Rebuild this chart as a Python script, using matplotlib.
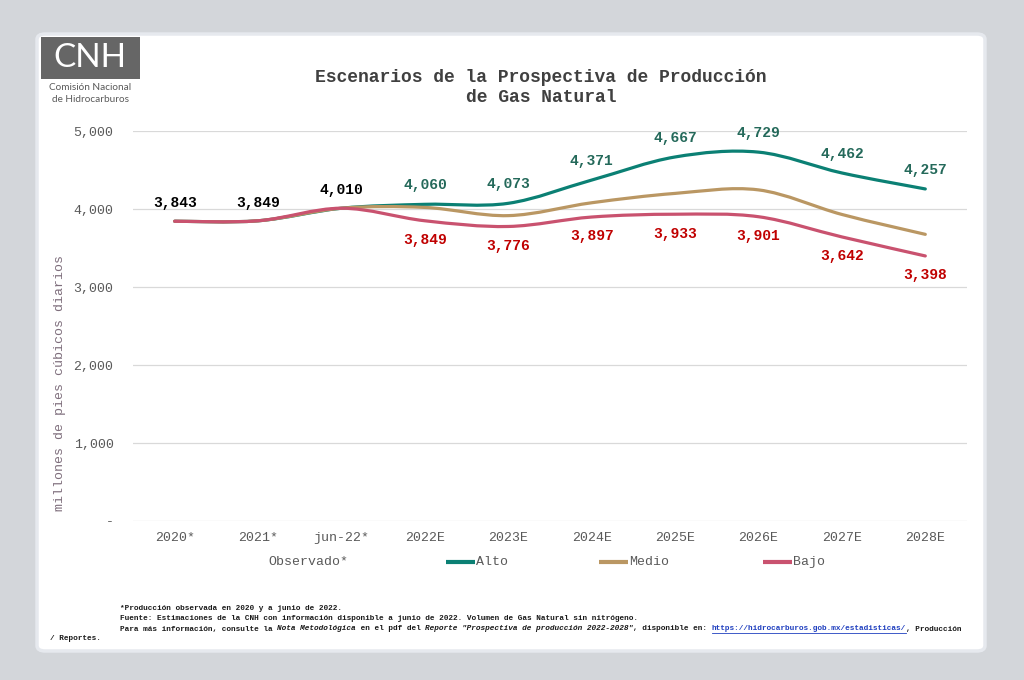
import matplotlib
matplotlib.use("Agg")
import matplotlib.pyplot as plt
from matplotlib.path import Path
from matplotlib.patches import PathPatch, FancyBboxPatch, Rectangle
from matplotlib.lines import Line2D
from matplotlib.ticker import FuncFormatter

categories = ["2020*", "2021*", "jun-22*", "2022E", "2023E", "2024E", "2025E", "2026E", "2027E", "2028E"]
observado = [3843, 3849, 4010]
alto = [3843, 3849, 4010, 4060, 4073, 4371, 4667, 4729, 4462, 4257]
medio = [3843, 3849, 4010, 4020, 3915, 4080, 4200, 4245, 3930, 3675]
bajo = [3843, 3849, 4010, 3849, 3776, 3897, 3933, 3901, 3642, 3398]
yticks = [0, 1000, 2000, 3000, 4000, 5000]

MONO = "Liberation Mono"
C_ALTO, C_MEDIO, C_BAJO = "#0B8074", "#BA9763", "#C9526F"
L_ALTO, L_BAJO = "#24695A", "#C00000"

W, H = 1024, 680
fig = plt.figure(figsize=(W / 100, H / 100), dpi=100)
fig.patch.set_facecolor("#D3D6DA")

def fx(x):
    return x / W

def fy(y):
    return 1 - y / H

# white panel
panel = FancyBboxPatch((fx(37), fy(651)), fx(985) - fx(37), fy(34) - fy(651),
                       boxstyle="round,pad=0,rounding_size=0.008", transform=fig.transFigure,
                       facecolor="white", edgecolor="#E6E9EE", linewidth=2.5, zorder=-10)
fig.add_artist(panel)

ax = fig.add_axes([fx(133), fy(521), fx(967) - fx(133), fy(131) - fy(521)])
ax.set_zorder(5)
ax.set_facecolor("none")
ax.set_xlim(-0.5, len(categories) - 0.5)
ax.set_ylim(0, 5000)
ax.set_yticks(yticks)
ax.yaxis.set_major_formatter(FuncFormatter(lambda v, p: "-" if v == 0 else f"{int(v):,}"))
ax.set_xticks(range(len(categories)))
ax.set_xticklabels(categories)
ax.grid(axis="y", color="#D9D9D9", linewidth=0.9)
ax.set_axisbelow(True)
for s in ax.spines.values():
    s.set_visible(False)
ax.tick_params(length=0, colors="#595959", labelsize=9.5, pad=8)
for lab in ax.get_xticklabels() + ax.get_yticklabels():
    lab.set_fontfamily(MONO)
ax.tick_params(axis="y", pad=14)
ax.set_ylabel("millones de pies cúbicos diarios", fontfamily=MONO, fontsize=9.5,
              color="#7E6E7C", labelpad=6)
ax.yaxis.set_label_coords(-0.08, 0.355)


def smooth(xs, ys):
    pts = list(zip(xs, ys))
    n = len(pts)
    verts = [pts[0]]
    codes = [Path.MOVETO]
    for i in range(n - 1):
        p0 = pts[i - 1] if i > 0 else pts[i]
        p1 = pts[i]
        p2 = pts[i + 1]
        p3 = pts[i + 2] if i + 2 < n else pts[i + 1]
        c1 = (p1[0] + (p2[0] - p0[0]) / 6, p1[1] + (p2[1] - p0[1]) / 6)
        c2 = (p2[0] - (p3[0] - p1[0]) / 6, p2[1] - (p3[1] - p1[1]) / 6)
        verts += [c1, c2, p2]
        codes += [Path.CURVE4] * 3
    return Path(verts, codes)


xs = list(range(len(categories)))
for data, col in [(alto, C_ALTO), (medio, C_MEDIO), (bajo, C_BAJO)]:
    ax.add_patch(PathPatch(smooth(xs, data), facecolor="none", edgecolor=col,
                           linewidth=2.3, capstyle="round", joinstyle="round", zorder=3))

# data labels
for i, v in enumerate(observado):
    ax.annotate(f"{v:,}", (i, v), xytext=(0, 13), textcoords="offset points", ha="center",
                va="center", fontfamily=MONO, fontweight="bold", fontsize=10.5, color="black")
for i in range(len(observado), len(categories)):
    ax.annotate(f"{alto[i]:,}", (i, alto[i]), xytext=(0, 14), textcoords="offset points",
                ha="center", va="center", fontfamily=MONO, fontweight="bold", fontsize=10.5,
                color=L_ALTO)
    ax.annotate(f"{bajo[i]:,}", (i, bajo[i]), xytext=(0, -14), textcoords="offset points",
                ha="center", va="center", fontfamily=MONO, fontweight="bold", fontsize=10.5,
                color=L_BAJO)

# title
fig.text(fx(541), fy(77.5), "Escenarios de la Prospectiva de Producción", ha="center", va="center",
         fontfamily=MONO, fontweight="bold", fontsize=13, color="#404040")
fig.text(fx(541), fy(98), "de Gas Natural", ha="center", va="center",
         fontfamily=MONO, fontweight="bold", fontsize=13, color="#404040")

# legend (manual)
fig.text(fx(268), fy(562), "Observado*", ha="left", va="center", fontfamily=MONO,
         fontsize=9.5, color="#595959")
for x0, lab, col in [(446, "Alto", C_ALTO), (599, "Medio", C_MEDIO), (763, "Bajo", C_BAJO)]:
    fig.add_artist(Line2D([fx(x0), fx(x0 + 29)], [fy(562), fy(562)], color=col, linewidth=3,
                          solid_capstyle="butt", transform=fig.transFigure))
    fig.text(fx(x0 + 30), fy(562), lab, ha="left", va="center", fontfamily=MONO,
             fontsize=9.5, color="#595959")

# logo
fig.add_artist(Rectangle((fx(41), fy(79)), fx(140) - fx(41), fy(37) - fy(79),
                         transform=fig.transFigure, facecolor="#666666", edgecolor="none"))
fig.text(fx(90), fy(58), "CNH", ha="center", va="center", fontfamily="Lato", fontweight="normal",
         fontsize=24, color="white")
fig.text(fx(90), fy(88), "Comisión Nacional", ha="center", va="center", fontfamily="Lato",
         fontsize=7.2, color="#5A5A5A")
fig.text(fx(90), fy(99), "de Hidrocarburos", ha="center", va="center", fontfamily="Lato",
         fontsize=7.2, color="#5A5A5A")

# footnotes
FS = 5.62
kw = dict(fontfamily=MONO, fontweight="bold", fontsize=FS, color="#1A1A1A", va="center", ha="left")
fig.text(fx(120), fy(608), "*Producción observada en 2020 y a junio de 2022.", **kw)
fig.text(fx(120), fy(619), "Fuente: Estimaciones de la CNH con información disponible a junio de 2022. Volumen de Gas Natural sin nitrógeno.", **kw)

fig.canvas.draw()
renderer = fig.canvas.get_renderer()
segments = [
    ("Para más información, consulte la ", "normal", "#1A1A1A", False),
    ("Nota Metodológica", "italic", "#1A1A1A", False),
    (" en el pdf del ", "normal", "#1A1A1A", False),
    ("Reporte \"Prospectiva de producción 2022-2028\"", "italic", "#1A1A1A", False),
    (", disponible en: ", "normal", "#1A1A1A", False),
    ("https://hidrocarburos.gob.mx/estadisticas/", "normal", "#1F3FBF", True),
    (", Producción", "normal", "#1A1A1A", False),
]
xpix = 120
for txt, style, col, underline in segments:
    t = fig.text(fx(xpix), fy(629), txt, fontfamily=MONO, fontweight="bold", fontsize=FS,
                 color=col, va="center", ha="left", fontstyle=style)
    bb = t.get_window_extent(renderer)
    if underline:
        fig.add_artist(Line2D([fx(xpix), fx(xpix + bb.width)], [fy(633), fy(633)], color=col,
                              linewidth=0.6, transform=fig.transFigure))
    xpix += bb.width
fig.text(fx(50), fy(638), "/ Reportes.", **kw)

fig.savefig("out.png", dpi=100, facecolor=fig.get_facecolor())
